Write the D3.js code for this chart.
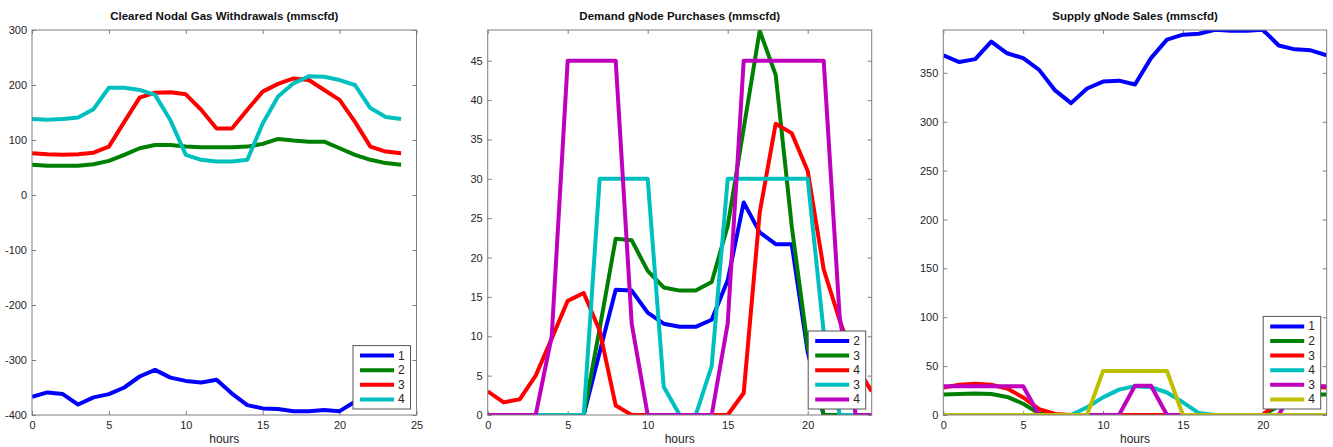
<!DOCTYPE html>
<html>
<head>
<meta charset="utf-8">
<script src="https://cdn.jsdelivr.net/npm/d3@7"></script>
<style>
  body { margin: 0; background: #fff; }
  text { font-family: "Liberation Sans", Arial, sans-serif; }
  .tick text { font-size: 11px; fill: #262626; }
  .tick line { stroke: #7f7f7f; }
</style>
</head>
<body>
<div id="chart-area"></div>
<script>
// hours on the x axis
let hours = [0,1,2,3,4,5,6,7,8,9,10,11,12,13,14,15,16,17,18,19,20,21,22,23,24];

// Cleared Nodal Gas Withdrawals
let withdrawal1 = [-367,-359,-362,-381,-368,-362,-350,-330,-318,-332,-338,-341,-336,-361,-382,-388,-389,-393,-393,-391,-393,-376,-366,-367,-367];
let withdrawal2 = [55,53,53,53,56,62,73,85,91,91,88,87,87,87,88,93,102,99,97,97,85,73,64,58,55];
let withdrawal3 = [76,74,73,74,77,88,133,177,186,187,183,155,121,121,155,188,202,212,209,191,173,133,88,79,76];
let withdrawal4 = [138,137,138,141,156,195,195,191,182,136,73,64,61,61,64,130,179,203,216,215,209,200,158,142,138];

// Demand gNode Purchases
let demand2 = [0,0,0,0,0,0,0,8,15.9,15.8,13,11.6,11.2,11.2,12.1,17.1,27,23.2,21.7,21.7,8,0,0,0,0];
let demand3 = [0,0,0,0,0,0,0,11,22.4,22.2,18.3,16.2,15.8,15.8,16.9,24,36.4,48.8,43.2,24,8.7,0,0,0,0];
let demand4 = [3,1.6,2,5,9.7,14.5,15.5,10.7,1.2,0,0,0,0,0,0,0,2.8,25.7,37,35.8,31,18.5,12,6.3,3];
let demand3b = [0,0,0,0,0,0,0,30,30,30,30,3.6,0,0,6.2,30,30,30,30,30,30,10.5,0,0,0];
let demand4b = [0,0,0,0,10,45,45,45,45,11.6,0,0,0,0,0,11.6,45,45,45,45,45,45,12.4,0,0];

// Supply gNode Sales
let supply1 = [368,361,364,382,370,365,353,332,319,334,341,342,338,365,384,389,390,394,393,393,394,378,374,373,368];
let supply2 = [21,21.6,22,21.5,18.5,11.5,1.5,0,0,0,0,0,0,0,0,0,0,0,0,0,0,9,18,21,21];
let supply3 = [28,31,32,31,27,18,6,1,0,0,0,0,0,0,0,0,0,0,0,0,0,14,25,29,28];
let supply4 = [0,0,0,0,0,0,0,0,0,8,18,26,29.5,28.5,23,13,2,0,0,0,0,0,0,0,0];
let supply3b = [29.5,29.5,29.5,29.5,29.5,29.5,0,0,0,0,0,0,30,30,0,0,0,0,0,0,0,0,29.5,29.5,29.5];
let supply4b = [0,0,0,0,0,0,0,0,0,0,45,45,45,45,45,0,0,0,0,0,0,0,0,0,0];

// tick labels
let ticks1x = [0,5,10,15,20,25];
let ticks1y = [-400,-300,-200,-100,0,100,200,300];
let ticks2x = [0,5,10,15,20];
let ticks2y = [0,5,10,15,20,25,30,35,40,45];
let ticks3x = [0,5,10,15,20];
let ticks3y = [0,50,100,150,200,250,300,350];

let colors = {
  b: "#0000ff", g: "#008000", r: "#ff0000",
  c: "#00bfbf", m: "#bf00bf", y: "#bfbf00"
};

let panels = [
  {
    title: "Cleared Nodal Gas Withdrawals (mmscfd)",
    left: 32, right: 416.5,
    xDomain: [0, 25], yDomain: [-400, 300],
    xTicks: ticks1x, yTicks: ticks1y,
    series: [
      { name: "1", values: withdrawal1, color: colors.b },
      { name: "2", values: withdrawal2, color: colors.g },
      { name: "3", values: withdrawal3, color: colors.r },
      { name: "4", values: withdrawal4, color: colors.c }
    ]
  },
  {
    title: "Demand gNode Purchases (mmscfd)",
    left: 487.7, right: 871.7,
    xDomain: [0, 24], yDomain: [0, 48.9],
    xTicks: ticks2x, yTicks: ticks2y,
    series: [
      { name: "2", values: demand2, color: colors.b },
      { name: "3", values: demand3, color: colors.g },
      { name: "4", values: demand4, color: colors.r },
      { name: "3", values: demand3b, color: colors.c },
      { name: "4", values: demand4b, color: colors.m }
    ]
  },
  {
    title: "Supply gNode Sales (mmscfd)",
    left: 943.3, right: 1326.7,
    xDomain: [0, 24], yDomain: [0, 393.8],
    xTicks: ticks3x, yTicks: ticks3y,
    series: [
      { name: "1", values: supply1, color: colors.b },
      { name: "2", values: supply2, color: colors.g },
      { name: "3", values: supply3, color: colors.r },
      { name: "4", values: supply4, color: colors.c },
      { name: "3", values: supply3b, color: colors.m },
      { name: "4", values: supply4b, color: colors.y }
    ]
  }
];

let plotTop = 30, plotBottom = 415;

let svg = d3
  .select("#chart-area")
  .append("svg")
  .attr("width", 1333)
  .attr("height", 447);

panels.forEach((p, i) => {
  let x = d3.scaleLinear().domain(p.xDomain).range([p.left, p.right]);
  let y = d3.scaleLinear().domain(p.yDomain).range([plotBottom, plotTop]);
  let g = svg.append("g");

  // clip for lines
  g.append("clipPath")
    .attr("id", "clip" + i)
    .append("rect")
    .attr("x", p.left)
    .attr("y", plotTop)
    .attr("width", p.right - p.left)
    .attr("height", plotBottom - plotTop);

  // axes (MATLAB style: ticks inside, all four sides)
  let fmt = d => String(d);
  g.append("g")
    .attr("transform", "translate(0," + plotBottom + ")")
    .call(d3.axisBottom(x).tickValues(p.xTicks).tickSize(-4).tickPadding(6).tickFormat(fmt));
  g.append("g")
    .attr("transform", "translate(0," + plotTop + ")")
    .call(d3.axisTop(x).tickValues(p.xTicks).tickSize(-4).tickFormat(""));
  g.append("g")
    .attr("transform", "translate(" + p.left + ",0)")
    .call(d3.axisLeft(y).tickValues(p.yTicks).tickSize(-4).tickPadding(5).tickFormat(fmt));
  g.append("g")
    .attr("transform", "translate(" + p.right + ",0)")
    .call(d3.axisRight(y).tickValues(p.yTicks).tickSize(-4).tickFormat(""));
  g.selectAll(".domain").remove();

  // lines
  let line = d3.line()
    .x((d, k) => x(hours[k]))
    .y(d => y(d));
  g.append("g")
    .attr("clip-path", "url(#clip" + i + ")")
    .selectAll("path")
    .data(p.series)
    .enter()
    .append("path")
    .attr("d", d => line(d.values))
    .attr("fill", "none")
    .attr("stroke", d => d.color)
    .attr("stroke-width", 4)
    .attr("stroke-linejoin", "round");

  // axes box
  g.append("rect")
    .attr("x", p.left)
    .attr("y", plotTop)
    .attr("width", p.right - p.left)
    .attr("height", plotBottom - plotTop)
    .attr("fill", "none")
    .attr("stroke", "#7f7f7f")
    .attr("stroke-width", 1);

  // title
  g.append("text")
    .text(p.title)
    .attr("x", (p.left + p.right) / 2)
    .attr("y", 20)
    .attr("text-anchor", "middle")
    .style("font-size", "11.5px")
    .style("font-weight", "bold")
    .style("fill", "#111");

  // x label
  g.append("text")
    .text("hours")
    .attr("x", (p.left + p.right) / 2)
    .attr("y", 443)
    .attr("text-anchor", "middle")
    .style("font-size", "12px")
    .style("fill", "#262626");

  // legend
  let rowH = 14.6;
  let n = p.series.length;
  let lw = 57.5, lh = n * rowH + 5;
  let lx = p.right - 6 - lw, ly = 409 - lh;
  let leg = g.append("g");
  leg.append("rect")
    .attr("x", lx)
    .attr("y", ly)
    .attr("width", lw)
    .attr("height", lh)
    .attr("fill", "#fff")
    .attr("stroke", "#555")
    .attr("stroke-width", 1);
  let rows = leg.selectAll(".row")
    .data(p.series)
    .enter()
    .append("g")
    .attr("class", "row")
    .attr("transform", (d, k) => "translate(" + lx + "," + (ly + 10 + k * rowH) + ")");
  rows.append("line")
    .attr("x1", 7)
    .attr("x2", 41)
    .attr("stroke", d => d.color)
    .attr("stroke-width", 4);
  rows.append("text")
    .text(d => d.name)
    .attr("x", 45)
    .attr("y", 4)
    .style("font-size", "12px")
    .style("fill", "#262626");
});
</script>
</body>
</html>
